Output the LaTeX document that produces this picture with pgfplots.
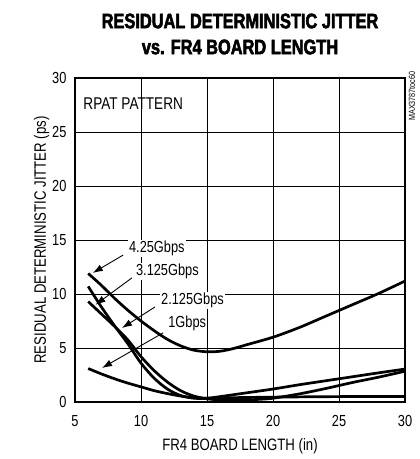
\documentclass[border=0pt]{standalone}
\usepackage{pgfplots}
\pgfplotsset{compat=1.18}
\usepackage{fontspec}
\setmainfont{Liberation Sans}[FakeStretch=0.8]
\newfontfamily\titlefont{Liberation Sans}[FakeStretch=0.78,UprightFont=* Bold,FakeBold=2.5]
\usetikzlibrary{arrows.meta,calc}
\tikzset{curve/.style={black, line width=2.7pt, smooth, tension=0.5, mark=none},
  gridline/.style={draw=black, line width=0.75pt}}
\begin{document}
\begin{tikzpicture}
\begin{axis}[
  name=ax,
  scale only axis,
  width=330pt, height=324pt,
  xmin=5, xmax=30, ymin=0, ymax=30,
  xtick={5,10,...,30}, ytick={0,5,...,30},
  major tick length=0pt,
  axis line style={draw=black, line width=2.6pt},
  tick label style={font=\fontsize{16}{17}\selectfont},
  /pgf/number format/assume math mode=true,
  xticklabel style={yshift=-10pt},
  yticklabel style={xshift=-5pt},
  xlabel={FR4 BOARD LENGTH (in)},
  ylabel={RESIDUAL DETERMINISTIC JITTER (ps)},
  label style={font=\fontsize{16.5}{17}\selectfont},
  xlabel style={yshift=-5pt},
  ylabel style={yshift=-4pt},
  clip=false,
]
% grid
\draw[gridline] (axis cs:10,0) -- (axis cs:10,30);
\draw[gridline] (axis cs:15,0) -- (axis cs:15,30);
\draw[gridline] (axis cs:20,0) -- (axis cs:20,30);
\draw[gridline] (axis cs:25,0) -- (axis cs:25,30);
\draw[gridline] (axis cs:5,5) -- (axis cs:30,5);
\draw[gridline] (axis cs:5,10) -- (axis cs:30,10);
\draw[gridline] (axis cs:5,15) -- (axis cs:30,15);
\draw[gridline] (axis cs:5,20) -- (axis cs:30,20);
\draw[gridline] (axis cs:5,25) -- (axis cs:30,25);
% 4.25 Gbps
\addplot[curve] coordinates {(6,11.9)(7,10.8)(8,9.6)(9,8.5)(10,7.5)(11,6.6)(12,5.8)(13,5.2)(14,4.8)(15,4.65)(16,4.7)(17,4.95)(18,5.3)(20,6.0)(22,6.9)(24,7.95)(26,9.0)(28,10.05)(30,11.2)};
% 3.125 Gbps
\addplot[curve] coordinates {(6,10.7)(7,8.8)(8,7.05)(9,5.4)(10,3.6)(11,2.2)(12,1.2)(13,0.6)(14,0.35)(15,0.35)(16,0.5)(18,0.85)(20,1.2)(22,1.6)(25,2.15)(28,2.7)(30,3.05)};
% 2.125 Gbps
\addplot[curve] coordinates {(6,9.3)(7,8.15)(8,7.0)(9,5.75)(10,4.2)(11,2.9)(12,1.85)(13,1.05)(14,0.55)(15,0.3)(16,0.2)(18,0.2)(19,0.25)(20,0.35)(22,0.75)(24,1.25)(26,1.8)(28,2.3)(30,2.85)};
% 1 Gbps
\addplot[curve] coordinates {(6,3.1)(7,2.6)(8,2.15)(9,1.75)(10,1.4)(11,1.05)(12,0.78)(13,0.55)(14,0.4)(15,0.35)(17,0.4)(20,0.45)(25,0.5)(30,0.5)};
% annotations
\node[fill=white, inner sep=1pt, font=\fontsize{16}{17}\selectfont] at (axis cs:11.2,14.2) {4.25Gbps};
\node[fill=white, inner sep=1pt, font=\fontsize{16}{17}\selectfont] at (axis cs:12.0,12.1) {3.125Gbps};
\node[fill=white, inner sep=1pt, font=\fontsize{16}{17}\selectfont] at (axis cs:13.9,9.44) {2.125Gbps};
\node[fill=white, inner sep=1pt, font=\fontsize{16}{17}\selectfont] at (axis cs:13.5,7.3) {1Gbps};
\draw[line width=0.9pt, -{Latex[length=10pt,width=7pt]}] (axis cs:8.64,13.6) -- (axis cs:6.35,11.95);
\draw[line width=0.9pt, -{Latex[length=10pt,width=7pt]}] (axis cs:9.32,11.5) -- (axis cs:6.55,9.0);
\draw[line width=0.9pt, -{Latex[length=10pt,width=7pt]}] (axis cs:11.06,8.8) -- (axis cs:8.56,6.85);
\draw[line width=0.9pt, -{Latex[length=10pt,width=7pt]}] (axis cs:11.67,6.4) -- (axis cs:7.05,3.15);
\node[anchor=west, inner sep=1pt, font=\fontsize{17}{18}\selectfont] at (axis cs:5.55,27.6) {RPAT PATTERN};
\node[rotate=90, anchor=east, font=\fontsize{9}{10}\selectfont] at ($(rel axis cs:1,1)+(7pt,10pt)$) {MAX3787toc60};
\draw[black, line width=2.6pt] (rel axis cs:0,0) rectangle (rel axis cs:1,1);
\coordinate (bl) at (rel axis cs:0,0);
\coordinate (tr) at (rel axis cs:1,1);
\coordinate (tc) at (rel axis cs:0.5,1);
\end{axis}
\node[font=\titlefont\fontsize{21}{22}\selectfont, align=center] at ($(tc)+(0,44pt)$) {RESIDUAL DETERMINISTIC JITTER\\[4pt]vs. FR4 BOARD LENGTH};
\pgfresetboundingbox
\path[use as bounding box] ($(bl)+(-75pt,-57pt)$) rectangle ($(tr)+(14pt,78pt)$);
\end{tikzpicture}
\end{document}
